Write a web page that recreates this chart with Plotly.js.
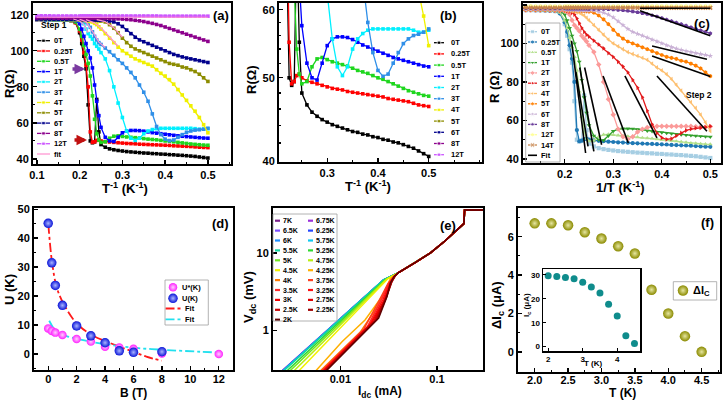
<!DOCTYPE html>
<html><head><meta charset="utf-8">
<script src="https://cdn.plot.ly/plotly-3.0.1.min.js"></script>
<style>html,body{margin:0;padding:0;background:#fff}</style>
</head><body><div id="fig" style="width:724px;height:401px"></div>
<script>
const W = 724, H = 401;
const FONT = 'Liberation Sans, Arial, sans-serif';

// ---------- R(T) data: inverse temperature grid (K^-1) and resistance (Ohm) per field ----------
const invT = [0.10,0.11,0.12,0.13,0.14,0.15,0.16,0.17,0.18,0.19,0.20,0.205,0.21,0.215,0.22,0.225,0.23,0.235,0.24,0.245,0.25,0.26,0.27,0.28,0.29,0.30,0.31,0.32,0.33,0.34,0.35,0.36,0.37,0.38,0.39,0.40,0.41,0.42,0.43,0.44,0.45,0.46,0.47,0.48,0.49,0.50];
const R_0T   = [117.4,117.4,117.3,117.3,117.2,117.2,117.1,117.0,116.8,116.0,110,104,97,90,70,50,49,49.5,73,55,48,46.5,45.6,45.1,44.7,44.4,44.1,43.9,43.7,43.5,43.3,43.2,43.0,42.9,42.7,42.6,42.4,42.3,42.1,42.0,41.8,41.6,41.4,41.1,40.8,40.5];
const R_025T = [117.4,117.4,117.3,117.3,117.2,117.2,117.1,117.0,116.8,115.5,111,106,99,92,80,55,49.2,49.5,50.3,50.5,50.0,49.6,49.4,49.2,49.0,48.8,48.6,48.5,48.4,48.2,48.1,48.0,47.9,47.8,47.7,47.6,47.5,47.3,47.2,47.1,47.0,46.9,46.7,46.5,46.4,46.3];
const R_05T  = [117.4,117.4,117.3,117.3,117.2,117.2,117.1,117.0,116.8,116.0,112,108,103,98,93,86,75,62,54,50.5,49.2,49.5,51.5,52.6,52.8,52.5,52.2,52.0,51.8,51.6,51.3,51.0,50.8,50.6,50.3,50.0,49.8,49.5,49.2,48.9,48.6,48.3,48.1,47.9,47.7,47.6];
const R_1T   = [117.4,117.4,117.3,117.3,117.3,117.2,117.2,117.1,117.0,116.8,115,112,108,104,100,96,90.5,81,72,64,57.5,52.0,50.0,49.7,52.0,54.5,55.5,55.8,55.8,55.7,55.4,55.0,54.6,54.3,54.0,53.7,53.4,53.1,52.8,52.6,52.4,52.2,52.0,51.8,51.6,51.5];
const R_2T   = [117.5,117.5,117.4,117.4,117.3,117.3,117.3,117.2,117.1,117.0,116.8,116.3,115,112,109.5,108,106.5,104,102.5,101,99,95.5,89,80,71,63,55.5,51.5,50.3,51.5,54.0,55.5,56.3,56.8,57.0,57.0,57.0,57.0,57.0,57.0,57.0,57.0,56.8,56.5,56.5,56.8];
const R_3T   = [117.5,117.5,117.4,117.4,117.4,117.3,117.3,117.2,117.2,117.1,117.0,116.8,116.5,116,115,113,110.5,108,106,104.5,103.5,101.5,99.5,97.5,95,93,90.5,88,85,81,77,72,65,58,53.5,51,50.2,50.5,52,53.5,54.8,55.5,56,56.2,56.5,57];
const R_4T   = [117.5,117.5,117.5,117.4,117.4,117.4,117.3,117.3,117.2,117.2,117.1,117.0,116.9,116.7,116.5,116.2,116,115.2,114.5,113.3,112,109.5,107,104.5,102,100,98.5,97,95.5,94.5,93.5,92.5,91.5,89.5,87.5,86,84,81.5,78.5,75.5,72.5,69.5,66.5,63,59,54.5];
const R_5T   = [117.5,117.5,117.5,117.5,117.4,117.4,117.4,117.3,117.3,117.3,117.2,117.2,117.1,117.1,117.0,117.0,117.0,116.9,116.8,116.7,116.5,116,114.5,112.5,110,107,104.5,102.5,101,100,99,98,97,96,95,94,93,92.5,92,91,90.5,89.5,88.5,87,85,83];
const R_6T   = [117.6,117.6,117.6,117.5,117.5,117.5,117.5,117.4,117.4,117.4,117.4,117.3,117.3,117.3,117.3,117.2,117.2,117.2,117.1,117.1,117.0,117,116.5,116,115,113.5,111.5,109.5,107.5,106,105,104,103,102,101,100,99,98,97.3,96.6,96,95.5,95,94.5,94,93.5];
const R_8T   = [118.2,118.2,118.2,118.2,118.1,118.1,118.1,118.1,118.1,118.1,118.1,118.0,118.0,118.0,118.0,118.0,118.0,118.0,118.0,118.0,117.9,117.9,117.8,117.8,117.7,117.6,117.4,117.2,116.9,116.6,116.2,115.7,115.2,114.6,114.0,113.2,112.4,111.6,110.8,110.0,109.2,108.4,107.6,106.8,106.0,105.2];
const R_12T  = [119.4,119.4,119.4,119.4,119.3,119.3,119.3,119.3,119.3,119.3,119.3,119.3,119.3,119.3,119.3,119.3,119.3,119.3,119.3,119.3,119.3,119.3,119.3,119.3,119.3,119.3,119.3,119.3,119.3,119.3,119.3,119.3,119.3,119.3,119.2,119.2,119.2,119.2,119.2,119.2,119.2,119.2,119.2,119.2,119.2,119.2];
const R_14T  = [118.6,118.6,118.6,118.6,118.6,118.6,118.6,118.6,118.6,118.6,118.6,118.6,118.6,118.6,118.6,118.6,118.6,118.6,118.6,118.6,118.6,118.6,118.6,118.6,118.6,118.6,118.6,118.6,118.6,118.6,118.5,118.5,118.5,118.5,118.5,118.5,118.5,118.5,118.5,118.5,118.5,118.5,118.5,118.5,118.5,118.5];

const fieldLabels = ['0T','0.25T','0.5T','1T','2T','3T','4T','5T','6T','8T','12T','14T'];
const fieldR = [R_0T,R_025T,R_05T,R_1T,R_2T,R_3T,R_4T,R_5T,R_6T,R_8T,R_12T,R_14T];

// step-1 activation fits (pink)
const fitA_x = [0.10,0.50,null,0.185,0.20,0.21,0.22,null,0.20,0.215,0.23,0.245,0.26,null,0.215,0.235,0.255,0.275,0.29,null,0.24,0.26,0.28,0.30];
const fitA_y = [118.6,118.6,null,117.6,116.5,114.5,110,null,117.4,116.2,110.8,104.8,101.8,null,117.3,115.5,111.5,106,102.5,null,117.3,116.2,112.8,107.5];
// step-2 linear fits (black): start/end points
const fitC_x0 = [0.214,0.223,0.231,0.241,0.279,0.324,0.390,0.380,0.380,0.355,0.355];
const fitC_y0 = [101.4,85.2,87.5,87.5,83.1,83.1,83.1,93.5,98.7,117.0,118.3];
const fitC_x1 = [0.243,0.248,0.260,0.276,0.331,0.390,0.493,0.500,0.493,0.500,0.500];
const fitC_y1 = [43.1,46.5,43.9,47.4,48.3,50.9,54.4,82.8,91.8,104.0,118.3];

// ---------- activation energies vs field ----------
const B_U   = [0,0.25,0.5,1,2,3,4,5,6,8];
const U_K   = [45.1,31.5,23.7,16.8,9.7,6.3,3.9,1.1,0.6,0.8];
const B_Us  = [0,0.25,0.5,1,2,3,4,5,6,8,12];
const Us_K  = [8.85,8.0,7.4,6.6,5.2,4.3,2.5,2.3,1.8,0.2,0.0];
const fitU_B  = [0.02,0.05,0.28,0.59,1.06,2.0,3.05,4.1,5.05,6.0,6.9,8.0];
const fitU_K  = [44.5,42.2,31.3,23.2,17.5,10.6,6.6,4.3,2.5,0.8,-0.9,-2.3];
const fitUs_B = [0.07,0.59,1.29,2.46,3.64,5.99,8.33,10.68,12.1];
const fitUs_K = [11.5,7.7,6.2,4.8,3.7,2.2,1.4,0.8,0.5];

// ---------- V-I curves (log-log) ----------
const ivTemps  = ['7K','6.75K','6.5K','6.25K','6K','5.75K','5.5K','5.25K','5K','4.75K','4.5K','4.25K','4K','3.75K','3.5K','3.25K','3K','2.75K','2.5K','2.25K','2K'];
const ivColors = ['#7a1f8a','#9b30d9','#7b4dff','#2446ff','#1f8fff','#10c8f0','#10d8a0','#30d830','#70e620','#b8ee10','#f0f000','#ffb000','#ff7a00','#ff4020','#ff2a2a','#ff1010','#f00000','#e00000','#c80000','#a00000','#600000'];
// normal-state branch common to all temperatures
const I_norm = [0.04,0.06,0.085,0.12,0.16,0.18,0.19,0.193,0.3];
const V_norm = [5.6,7.6,10.0,14.2,19.8,23.0,24.0,36.0,36.0];
// low-current branches
const I_7K = [0.0024,0.028],  V_7K = [0.29,4.5];
const I_675K = [0.00241,0.028], V_675K = [0.29,4.5];
const I_65K = [0.00242,0.028], V_65K = [0.29,4.5];
const I_625K = [0.00243,0.028], V_625K = [0.29,4.5];
const I_6K = [0.00244,0.028], V_6K = [0.29,4.5];
const I_575K = [0.00246,0.028], V_575K = [0.29,4.5];
const I_55K = [0.0025,0.028], V_55K = [0.29,4.5];
const I_525K = [0.0027,0.029], V_525K = [0.29,4.55];
const I_5K = [0.0029,0.030], V_5K = [0.29,4.6];
const I_475K = [0.0032,0.030], V_475K = [0.29,4.6];
const I_45K = [0.0036,0.031], V_45K = [0.29,4.65];
const I_425K = [0.0054,0.0104,0.018,0.027,0.033], V_425K = [0.29,0.72,1.37,2.75,4.7];
const I_4K = [0.0060,0.016,0.024,0.030,0.035], V_4K = [0.29,0.95,2.0,3.6,4.9];
const I_375K = [0.0062,0.0175,0.025,0.031,0.036], V_375K = [0.29,1.05,2.4,4.0,5.0];
const I_35K = [0.0063,0.019,0.027,0.032,0.037], V_35K = [0.29,1.12,2.6,4.2,5.1];
const I_325K = [0.0064,0.020,0.0275,0.033,0.037], V_325K = [0.29,1.18,2.5,4.3,5.1];
const I_3K = [0.0065,0.021,0.028,0.034,0.037], V_3K = [0.29,1.25,2.4,4.4,5.1];
const I_275K = [0.0066,0.022,0.029,0.034,0.037], V_275K = [0.29,1.3,2.5,4.3,5.1];
const I_25K = [0.0067,0.023,0.0295,0.034,0.037], V_25K = [0.29,1.35,2.6,4.3,5.1];
const I_225K = [0.0068,0.024,0.030,0.034,0.037], V_225K = [0.29,1.4,2.7,4.2,5.1];
const I_2K = [0.0069,0.0249,0.0304,0.0329,0.036], V_2K = [0.29,1.45,2.75,4.1,5.0];
const ivI = [I_7K,I_675K,I_65K,I_625K,I_6K,I_575K,I_55K,I_525K,I_5K,I_475K,I_45K,I_425K,I_4K,I_375K,I_35K,I_325K,I_3K,I_275K,I_25K,I_225K,I_2K];
const ivV = [V_7K,V_675K,V_65K,V_625K,V_6K,V_575K,V_55K,V_525K,V_5K,V_475K,V_45K,V_425K,V_4K,V_375K,V_35K,V_325K,V_3K,V_275K,V_25K,V_225K,V_2K];

// ---------- critical current vs temperature ----------
const T_K  = [2.0,2.25,2.5,2.75,3.0,3.25,3.5,3.75,4.0,4.25,4.5];
const dIc  = [6.7,6.7,6.6,6.24,5.91,5.51,5.13,3.24,2.0,0.82,0.0];
const Ic   = [29.6,29.3,28.9,28.3,26.9,24.9,22.4,17.7,12.8,4.6,1.3];

// ---------- styles ----------
const colorsA = ['#000000','#ff0000','#1ed61e','#0000ff','#00f0ff','#2f8fe8','#f0f000','#8c8c00','#00008c','#8c008c','#cc55ff'];
const colorsC = ['#a6cee3','#1f78b4','#b2df8a','#33a02c','#fb9a99','#e31a1c','#fdbf6f','#ff7f00','#cab2d6','#6a3d9a','#ffff99','#c8874f'];
const symbolsC = ['square','circle','triangle-up','triangle-down','diamond','triangle-right','triangle-left','hexagon','star','pentagon','circle','x'];

const traces = [];
// panels (a) and (b): same measurements, full and zoomed views
[['x','y'],['x2','y2']].forEach(([xa,ya]) => {
  for (let i = 0; i < 11; i++) {
    traces.push({type:'scatter', mode:'lines+markers', x:invT, y:fieldR[i], xaxis:xa, yaxis:ya,
      line:{color:colorsA[i], width:1.3}, marker:{symbol:'square', size:3.6, color:colorsA[i]},
      showlegend:false, hoverinfo:'skip'});
  }
});
traces.push({type:'scatter', mode:'lines', x:fitA_x, y:fitA_y, xaxis:'x', yaxis:'y',
  line:{color:'#ff8fcf', width:1.2}, showlegend:false, hoverinfo:'skip'});
// panel (c)
for (let i = 0; i < 12; i++) {
  traces.push({type:'scatter', mode:'lines+markers', x:invT, y:fieldR[i], xaxis:'x3', yaxis:'y3',
    line:{color:colorsC[i], width:1.3}, marker:{symbol:symbolsC[i], size:4.2, color:colorsC[i]},
    showlegend:false, hoverinfo:'skip'});
}
const fcx = [], fcy = [];
fitC_x0.forEach((v,k) => { fcx.push(v, fitC_x1[k], null); fcy.push(fitC_y0[k], fitC_y1[k], null); });
traces.push({type:'scatter', mode:'lines', x:fcx, y:fcy, xaxis:'x3', yaxis:'y3',
  line:{color:'#000', width:1.6}, showlegend:false, hoverinfo:'skip'});
// panel (d)
traces.push({type:'scatter', mode:'lines', x:fitU_B, y:fitU_K, xaxis:'x4', yaxis:'y4', line:{color:'#ff1a1a', width:1.8, dash:'dashdot', shape:'spline'}, showlegend:false, hoverinfo:'skip'});
traces.push({type:'scatter', mode:'lines', x:fitUs_B, y:fitUs_K, xaxis:'x4', yaxis:'y4', line:{color:'#22e0ee', width:1.8, dash:'dashdot', shape:'spline'}, showlegend:false, hoverinfo:'skip'});
const ballUs = {symbol:'circle', size:8.5, color:'#ff22ff', gradient:{type:'radial', color:'#ffd0ff'}, line:{width:0}};
const ballU  = {symbol:'circle', size:9.5, color:'#0a14d8', gradient:{type:'radial', color:'#a8b4ff'}, line:{width:0}};
traces.push({type:'scatter', mode:'markers', x:B_Us, y:Us_K, xaxis:'x4', yaxis:'y4', marker:ballUs, showlegend:false, hoverinfo:'skip'});
traces.push({type:'scatter', mode:'markers', x:B_U, y:U_K, xaxis:'x4', yaxis:'y4', marker:ballU, showlegend:false, hoverinfo:'skip'});
// panel (e)
for (let i = 0; i < ivTemps.length; i++) {
  traces.push({type:'scatter', mode:'lines', x:ivI[i].concat(I_norm), y:ivV[i].concat(V_norm), xaxis:'x5', yaxis:'y5',
    line:{color:ivColors[i], width:1.5}, showlegend:false, hoverinfo:'skip'});
}
// panel (f) + inset
const ballF = {symbol:'circle', size:10.5, color:'#8a8a00', gradient:{type:'radial', color:'#e6e6a0'}, line:{width:0}};
traces.push({type:'scatter', mode:'markers', x:T_K, y:dIc, xaxis:'x6', yaxis:'y6', marker:ballF, showlegend:false, hoverinfo:'skip'});
traces.push({type:'scatter', mode:'markers', x:T_K, y:Ic, xaxis:'x7', yaxis:'y7', marker:{symbol:'circle', size:7, color:'#0f8c8c'}, showlegend:false, hoverinfo:'skip'});

// ---------- legend keys and labels on a full-page pixel overlay ----------
const annotations = [], shapes = [];
function txt(x, y, s, size, anchor, angle) {
  annotations.push({xref:'x8', yref:'y8', x, y, text:'<b>'+s+'</b>', showarrow:false, textangle:angle||0,
    xanchor:anchor||'left', yanchor:'middle', borderpad:0, font:{family:FONT, size:size, color:'#000'}});
}
function key(x0, len, y, color, lw, dash, symbol, msize) {
  const tr = {type:'scatter', xaxis:'x8', yaxis:'y8', x:[x0, x0+len/2, x0+len], y:[y,y,y],
    mode: symbol ? 'lines+markers' : 'lines', line:{color, width:lw, dash:dash||'solid'},
    showlegend:false, hoverinfo:'skip', cliponaxis:false};
  if (symbol) tr.marker = {symbol, size:[0,msize,0], color};
  traces.push(tr);
}
function ball(x, y, m) {
  traces.push({type:'scatter', xaxis:'x8', yaxis:'y8', x:[x], y:[y], mode:'markers', marker:m, showlegend:false, hoverinfo:'skip', cliponaxis:false});
}
function box(x0, y0, x1, y1) {
  shapes.push({type:'rect', xref:'x8', yref:'y8', x0, y0, x1, y1, line:{color:'#a0a0a0', width:0.8}, fillcolor:'rgba(0,0,0,0)'});
}
// (a)
for (let i = 0; i < 11; i++) { key(37, 13, 40.7 + 10.3*i, colorsA[i], 1.3, null, 'square', 3.6); txt(53, 40.7 + 10.3*i, fieldLabels[i], 7.5); }
key(37, 13, 40.7 + 10.3*11, '#ff8fcf', 1.2); txt(53, 40.7 + 10.3*11, 'fit', 7.5);
// (b)
for (let i = 0; i < 11; i++) { key(434, 10, 42.7 + 11.2*i, colorsA[i], 1.3, null, 'square', 3.6); txt(450, 42.7 + 11.2*i, fieldLabels[i], 7.5); }
// (c)
box(525.7, 23, 560, 162);
for (let i = 0; i < 12; i++) { key(528, 9, 31.7 + 10.3*i, colorsC[i], 1.3, null, symbolsC[i], 4.2); txt(540, 31.7 + 10.3*i, fieldLabels[i], 7.5); }
key(528, 9, 31.7 + 10.3*12, '#000', 1.6); txt(540, 31.7 + 10.3*12, 'Fit', 7.5);
// (d)
box(165, 280, 208.3, 325);
ball(173, 287.3, ballUs); txt(181, 287.3, 'U*(K)', 7.5);
ball(173, 298.3, ballU);  txt(181, 298.3, 'U(K)', 7.5);
key(165.5, 15, 308.5, '#ff1a1a', 1.8, 'dashdot'); txt(184, 308.5, 'Fit', 7.5);
key(165.5, 15, 319.3, '#22e0ee', 1.8, 'dashdot'); txt(184, 319.3, 'Fit', 7.5);
// (e)
box(273, 214, 337, 321);
ivTemps.forEach((t, k) => {
  const col = k % 2, row = Math.floor(k / 2);
  const x0 = col ? 308 : 275, y = 220.7 + 9.9*row;
  key(x0, 5, y, ivColors[k], 2.2); txt(x0 + 6.5, y, t, 7);
});
// (f)
box(673.3, 281.7, 716.7, 300);
ball(683, 290.5, ballF); txt(692, 290.5, 'ΔI<sub>C</sub>', 11);

// panel labels and notes
txt(221, 15, '(a)', 13, 'center'); txt(448, 15, '(b)', 13, 'center'); txt(702, 23, '(c)', 13, 'center');
txt(220, 223, '(d)', 13, 'center'); txt(448, 225, '(e)', 13, 'center'); txt(707, 222, '(f)', 13, 'center');
txt(40, 25, 'Step 1', 8.5, 'left'); txt(699, 95, 'Step 2', 8.5, 'center');
// axis titles
txt(125, 188, 'T<sup>-1</sup> (K<sup>-1</sup>)', 13, 'center'); txt(9, 84, 'R(Ω)', 13, 'center', -90);
txt(368, 186, 'T<sup>-1</sup> (K<sup>-1</sup>)', 13, 'center'); txt(251, 80, 'R(Ω)', 13, 'center', -90);
txt(620, 187, '1/T (K<sup>-1</sup>)', 13, 'center'); txt(494, 87, 'R (Ω)', 13, 'center', -90);
txt(133, 392.5, 'B (T)', 12, 'center'); txt(9, 290, 'U (K)', 13, 'center', -90);
txt(380, 391.5, 'I<sub>dc</sub> (mA)', 12, 'center'); txt(249, 297, 'V<sub>dc</sub> (mV)', 13, 'center', -90);
txt(622, 392.5, 'T (K)', 12, 'center'); txt(497, 305, 'ΔI<sub>c</sub> (μA)', 13, 'center', -90);
txt(593, 363, 'T (K)', 8, 'center'); txt(527, 305, 'I<sub>c</sub> (μA)', 8, 'center', -90);
// arrows in (a)
annotations.push({xref:'x8', yref:'y8', axref:'x8', ayref:'y8', x:85, y:69, ax:71, ay:69, text:'', showarrow:true, arrowhead:2, arrowsize:0.6, arrowwidth:3.5, arrowcolor:'#7b3aa0'});
annotations.push({xref:'x8', yref:'y8', axref:'x8', ayref:'y8', x:87, y:140, ax:73, ay:140, text:'', showarrow:true, arrowhead:2, arrowsize:0.6, arrowwidth:3.5, arrowcolor:'#c01010'});

// ---------- axes ----------
const dx = (a, b) => [a / W, b / W];
const dy = (top, bottom) => [1 - bottom / H, 1 - top / H];
function axis(ext) {
  return Object.assign({
    showline:true, mirror:true, linecolor:'#000', linewidth:2,
    ticks:'inside', ticklen:4, tickwidth:1.3, tickcolor:'#000',
    tickfont:{family:FONT, size:11, color:'#000', weight:'bold'},
    showgrid:false, zeroline:false, fixedrange:true
  }, ext);
}
const minorIn = (d) => ({ticks:'inside', ticklen:2, tickwidth:1, tickcolor:'#000', dtick:d});
const smallFont = {family:FONT, size:8, color:'#000', weight:'bold'};

const layout = {
  width:W, height:H, margin:{l:0,r:0,t:0,b:0}, paper_bgcolor:'#fff', plot_bgcolor:'rgba(0,0,0,0)',
  showlegend:false, annotations, shapes,
  xaxis:  axis({domain:dx(33,231), anchor:'y', range:[0.091,0.554], tick0:0.1, dtick:0.1, minor:minorIn(0.05)}),
  yaxis:  axis({domain:dy(3,164), anchor:'x', range:[37.2,126.5], tick0:40, dtick:20, minor:minorIn(10)}),
  xaxis2: axis({domain:dx(279,482), anchor:'y2', range:[0.205,0.605], tickvals:[0.3,0.4,0.5], minor:minorIn(0.05)}),
  yaxis2: axis({domain:dy(3,162), anchor:'x2', type:'log', range:[Math.log10(39.9), Math.log10(61.1)], tickvals:[40,50,60], minor:{ticks:'inside', ticklen:2, tickcolor:'#000', tickvals:[42,44,46,48,52,54,56,58]}}),
  xaxis3: axis({domain:dx(523,721), anchor:'y3', range:[0.114,0.522], tick0:0.2, dtick:0.1, minor:minorIn(0.05)}),
  yaxis3: axis({domain:dy(3,163), anchor:'x3', range:[37.9,121], tick0:40, dtick:20, minor:minorIn(10)}),
  xaxis4: axis({domain:dx(34,233), anchor:'y4', range:[-1,13], tick0:0, dtick:2, minor:minorIn(1), ticklabelstandoff:-2}),
  yaxis4: axis({domain:dy(208,370), anchor:'x4', range:[-5.5,50.4], tick0:0, dtick:10, minor:minorIn(5)}),
  xaxis5: axis({domain:dx(273,483), anchor:'y5', type:'log', range:[-2.697,-0.524], tickvals:[0.01,0.1], ticktext:['0.01','0.1'], ticklabelstandoff:-2}),
  yaxis5: axis({domain:dy(208,370), anchor:'x5', type:'log', range:[-0.508,1.581], tickvals:[1,10], ticktext:['1','10']}),
  xaxis6: axis({domain:dx(518,720), anchor:'y6', range:[1.75,4.775], tick0:2, dtick:0.5, tickformat:'.1f', minor:minorIn(0.25), ticklabelstandoff:-3}),
  yaxis6: axis({domain:dy(208,372), anchor:'x6', range:[-1.05,7.5], tick0:0, dtick:2, minor:minorIn(1)}),
  xaxis7: axis({domain:dx(543,640), anchor:'y7', range:[1.85,4.66], tick0:2, dtick:1, linewidth:1.5, ticklen:3, tickfont:smallFont}),
  yaxis7: axis({domain:dy(269,351), anchor:'x7', range:[-1.8,32.4], tick0:0, dtick:10, linewidth:1.5, ticklen:3, tickfont:smallFont}),
  xaxis8: {domain:[0,1], anchor:'y8', range:[0,W], visible:false, fixedrange:true},
  yaxis8: {domain:[0,1], anchor:'x8', range:[H,0], visible:false, fixedrange:true}
};

Plotly.newPlot('fig', traces, layout, {staticPlot:true, displayModeBar:false});
</script></body></html>
